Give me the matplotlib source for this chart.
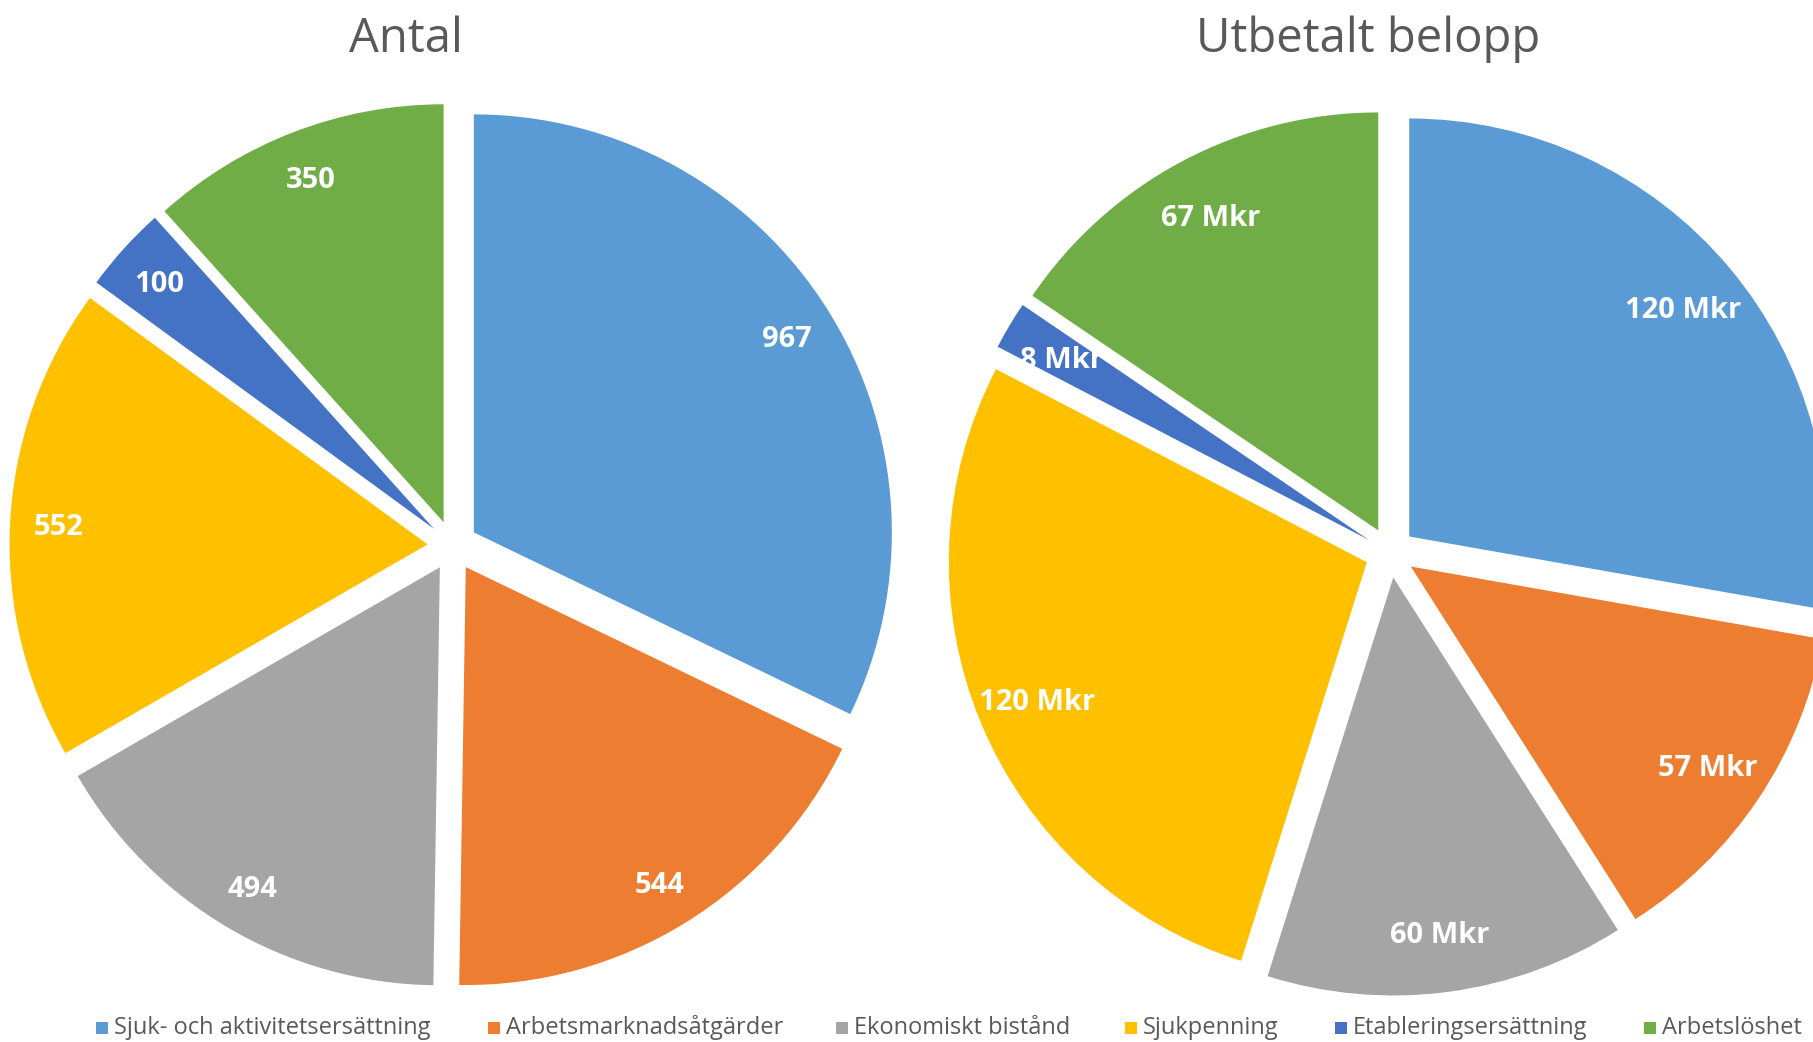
import matplotlib
matplotlib.use("Agg")
import matplotlib.pyplot as plt

plt.rcParams['font.family'] = ['Open Sans', 'DejaVu Sans']

categories = ['Sjuk- och aktivitetsersättning', 'Arbetsmarknadsåtgärder',
              'Ekonomiskt bistånd', 'Sjukpenning', 'Etableringsersättning',
              'Arbetslöshet']
antal = [967, 544, 494, 552, 100, 350]
belopp = [120, 57, 60, 120, 8, 67]  # Mkr
colors = ['#5B9BD5', '#ED7D31', '#A5A5A5', '#FFC000', '#4472C4', '#70AD47']
titles = ['Antal', 'Utbetalt belopp']

W, H = 1813, 1042
fig = plt.figure(figsize=(W / 100, H / 100), dpi=100)
ax = fig.add_axes([0, 0, 1, 1])

R = 418
# pie explode is in data units, not relative to radius
explode = [0.06 * R] * len(categories)


def fmt(vals, suffix=''):
    total = sum(vals)
    return lambda p: '{:.0f}{}'.format(p * total / 100, suffix)


label_style = dict(color='white', fontsize=21, fontweight='bold')

_, _, at1 = ax.pie(antal, colors=colors, explode=explode, startangle=90,
                   counterclock=False, radius=R, center=(452.6, H - 545.7),
                   autopct=fmt(antal), pctdistance=0.885, textprops=label_style,
                   wedgeprops=dict(linewidth=0))
_, _, at2 = ax.pie(belopp, colors=colors, explode=explode, startangle=90,
                   counterclock=False, radius=R, center=(1390, H - 552.6),
                   autopct=fmt(belopp, ' Mkr'), pctdistance=0.855,
                   textprops=label_style, wedgeprops=dict(linewidth=0))
for t in at1 + at2:
    t.set_va('center_baseline')

ax.set_xlim(0, W)
ax.set_ylim(0, H)
ax.set_aspect('equal')
ax.axis('off')

# titles
for x, t in zip([406, 1368], titles):
    ax.text(x, H - 52, t, ha='center', va='baseline', fontsize=34, color='#595959')

# legend along the bottom
leg_x = [101.7, 493.6, 841.6, 1130.6, 1341, 1649.6]
for x, c, name in zip(leg_x, colors, categories):
    ax.scatter([x], [H - 1028], marker='s', s=70, color=c, linewidths=0)
    ax.text(x + 12, H - 1028, name, ha='left', va='center', fontsize=17,
            color='#595959')

fig.savefig('out.png', dpi=100)
